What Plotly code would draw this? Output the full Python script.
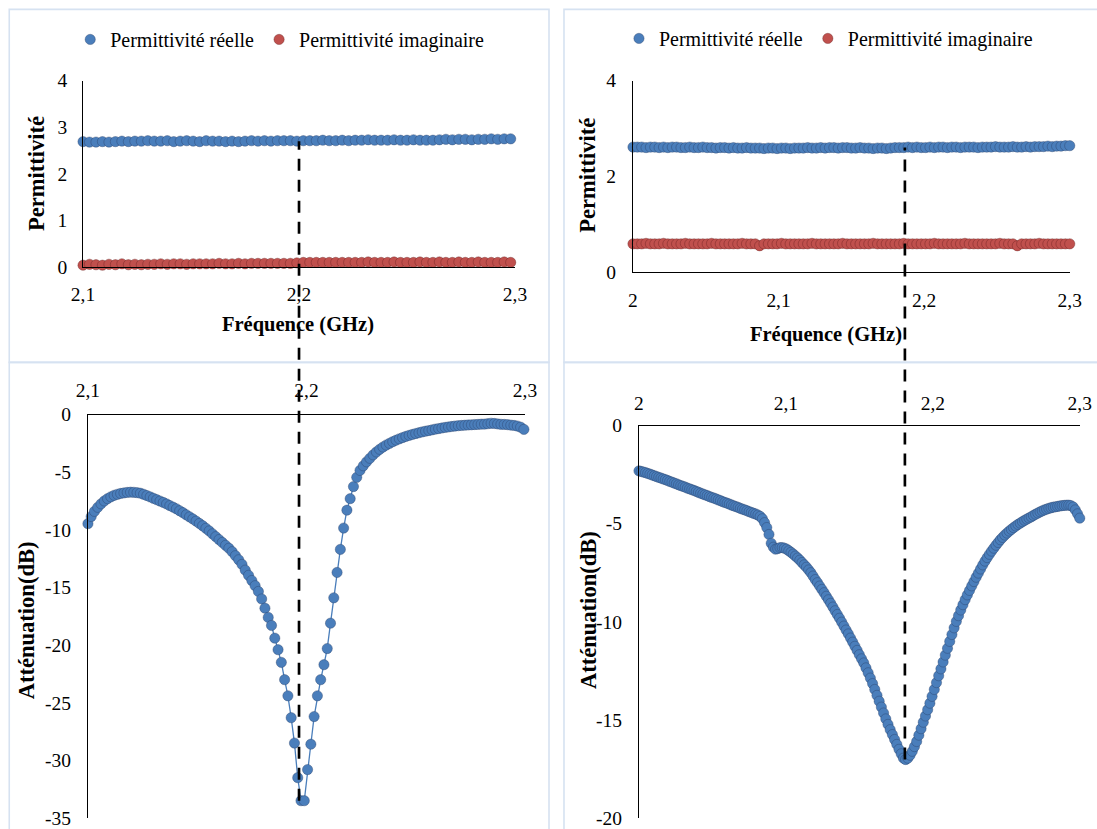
import numpy as np
import plotly.graph_objects as go

W, H = 1097, 829

# ---------------- data ----------------
# VNA frequency sweeps (GHz)
freq_att_left = np.round(np.linspace(2.1, 2.2995, 134), 4)
freq_att_right = np.round(np.linspace(2.0, 2.3, 201), 4)
freq_perm_left = np.round(np.linspace(2.1, 2.298, 67), 4)
freq_perm_right = np.round(np.linspace(2.0, 2.3, 101), 4)

att_left = [
    -9.47, -8.85, -8.40, -8.05, -7.75, -7.50, -7.30, -7.14, -7.01, -6.92,
    -6.85, -6.80, -6.76, -6.74, -6.75, -6.78, -6.83, -6.92, -7.03, -7.15,
    -7.27, -7.39, -7.51, -7.63, -7.76, -7.90, -8.04, -8.18, -8.35, -8.52,
    -8.70, -8.88, -9.06, -9.25, -9.45, -9.65, -9.87, -10.10, -10.35, -10.60,
    -10.85, -11.10, -11.35, -11.60, -11.90, -12.25, -12.60, -13.00, -13.50, -13.95,
    -14.40, -14.85, -15.35, -16.00, -16.80, -17.60, -18.30, -19.40, -20.40, -21.50,
    -23.00, -24.40, -26.30, -28.50, -31.50, -33.50, -33.50, -30.80, -28.60, -26.20,
    -24.40, -23.00, -21.70, -20.30, -18.10, -15.90, -13.70, -11.70, -9.85, -8.30,
    -7.30, -6.25, -5.45, -4.85, -4.45, -4.10, -3.80, -3.50, -3.25, -3.02,
    -2.82, -2.65, -2.50, -2.36, -2.23, -2.11, -2.00, -1.90, -1.81, -1.73,
    -1.65, -1.58, -1.51, -1.45, -1.39, -1.33, -1.27, -1.22, -1.17, -1.12,
    -1.08, -1.04, -1.00, -0.97, -0.95, -0.93, -0.91, -0.89, -0.87, -0.86,
    -0.84, -0.83, -0.80, -0.76, -0.78, -0.82, -0.85, -0.86, -0.88, -0.92,
    -0.95, -1.00, -1.10, -1.29,
]

att_right = [
    -2.31, -2.34, -2.37, -2.40, -2.44, -2.48, -2.52, -2.56, -2.60, -2.64,
    -2.68, -2.72, -2.76, -2.80, -2.85, -2.89, -2.93, -2.97, -3.02, -3.06,
    -3.10, -3.14, -3.19, -3.23, -3.27, -3.31, -3.36, -3.40, -3.45, -3.49,
    -3.53, -3.57, -3.62, -3.66, -3.70, -3.74, -3.79, -3.83, -3.88, -3.92,
    -3.96, -4.00, -4.05, -4.09, -4.13, -4.17, -4.22, -4.26, -4.30, -4.34,
    -4.39, -4.43, -4.47, -4.51, -4.56, -4.63, -4.75, -4.95, -5.20, -5.55,
    -6.00, -6.20, -6.30, -6.27, -6.22, -6.22, -6.25, -6.30, -6.38, -6.46,
    -6.55, -6.65, -6.75, -6.86, -6.98, -7.10, -7.22, -7.36, -7.50, -7.67,
    -7.85, -8.01, -8.18, -8.35, -8.52, -8.70, -8.88, -9.06, -9.25, -9.44,
    -9.63, -9.82, -10.02, -10.22, -10.42, -10.62, -10.83, -11.04, -11.25, -11.46,
    -11.68, -11.89, -12.10, -12.35, -12.60, -12.87, -13.15, -13.45, -13.75, -14.05,
    -14.35, -14.65, -14.95, -15.23, -15.50, -15.75, -16.00, -16.25, -16.50, -16.73,
    -16.95, -17.02, -16.95, -16.80, -16.60, -16.36, -16.10, -15.78, -15.45, -15.12,
    -14.80, -14.48, -14.15, -13.80, -13.45, -13.10, -12.75, -12.40, -12.05, -11.70,
    -11.35, -11.00, -10.65, -10.31, -9.98, -9.69, -9.40, -9.13, -8.87, -8.63,
    -8.40, -8.17, -7.95, -7.73, -7.52, -7.31, -7.10, -6.91, -6.73, -6.56,
    -6.40, -6.25, -6.10, -5.96, -5.82, -5.70, -5.58, -5.48, -5.38, -5.29,
    -5.20, -5.12, -5.04, -4.97, -4.90, -4.83, -4.77, -4.71, -4.65, -4.58,
    -4.52, -4.46, -4.40, -4.35, -4.30, -4.26, -4.22, -4.19, -4.16, -4.14,
    -4.12, -4.10, -4.08, -4.07, -4.06, -4.06, -4.08, -4.15, -4.30, -4.50,
    -4.72,
]

perm_real_left = [
    2.69, 2.68, 2.68, 2.69, 2.68, 2.69, 2.70, 2.69, 2.70, 2.70,
    2.71, 2.70, 2.70, 2.71, 2.69, 2.70, 2.71, 2.70, 2.69, 2.71,
    2.70, 2.70, 2.69, 2.70, 2.69, 2.70, 2.71, 2.70, 2.71, 2.70,
    2.71, 2.71, 2.71, 2.70, 2.71, 2.71, 2.71, 2.72, 2.71, 2.71,
    2.72, 2.71, 2.72, 2.72, 2.73, 2.72, 2.72, 2.72, 2.73, 2.72,
    2.72, 2.73, 2.72, 2.72, 2.72, 2.73, 2.74, 2.73, 2.74, 2.74,
    2.73, 2.74, 2.74, 2.75, 2.74, 2.75, 2.75,
]

perm_imag_left = [
    0.04, 0.06, 0.05, 0.04, 0.06, 0.05, 0.07, 0.05, 0.06, 0.05,
    0.06, 0.06, 0.07, 0.06, 0.07, 0.07, 0.06, 0.07, 0.07, 0.07,
    0.07, 0.08, 0.07, 0.07, 0.08, 0.07, 0.08, 0.08, 0.08, 0.08,
    0.08, 0.08, 0.08, 0.09, 0.10, 0.10, 0.10, 0.10, 0.10, 0.10,
    0.10, 0.10, 0.10, 0.10, 0.11, 0.10, 0.10, 0.10, 0.11, 0.10,
    0.10, 0.10, 0.11, 0.10, 0.10, 0.11, 0.10, 0.10, 0.11, 0.10,
    0.10, 0.11, 0.10, 0.10, 0.10, 0.11, 0.10,
]

perm_real_right = [
    2.61, 2.61, 2.61, 2.60, 2.61, 2.61, 2.60, 2.61, 2.60, 2.61,
    2.61, 2.60, 2.60, 2.61, 2.60, 2.60, 2.61, 2.60, 2.60, 2.59,
    2.60, 2.60, 2.59, 2.60, 2.59, 2.59, 2.60, 2.59, 2.59, 2.59,
    2.58, 2.59, 2.59, 2.58, 2.59, 2.59, 2.58, 2.59, 2.59, 2.59,
    2.60, 2.59, 2.59, 2.60, 2.59, 2.60, 2.60, 2.59, 2.60, 2.60,
    2.59, 2.59, 2.60, 2.59, 2.59, 2.58, 2.59, 2.59, 2.58, 2.59,
    2.60, 2.60, 2.60, 2.61, 2.60, 2.61, 2.60, 2.60, 2.61, 2.60,
    2.61, 2.61, 2.60, 2.61, 2.61, 2.60, 2.61, 2.61, 2.61, 2.60,
    2.61, 2.61, 2.61, 2.62, 2.61, 2.61, 2.61, 2.62, 2.61, 2.61,
    2.62, 2.61, 2.62, 2.62, 2.62, 2.63, 2.62, 2.63, 2.63, 2.64,
    2.64,
]

perm_imag_right = [
    0.59, 0.59, 0.59, 0.60, 0.59, 0.59, 0.59, 0.60, 0.59, 0.59,
    0.59, 0.59, 0.60, 0.59, 0.59, 0.59, 0.59, 0.59, 0.60, 0.59,
    0.59, 0.59, 0.59, 0.59, 0.59, 0.60, 0.59, 0.59, 0.59, 0.55,
    0.59, 0.59, 0.59, 0.59, 0.60, 0.59, 0.59, 0.59, 0.59, 0.59,
    0.59, 0.60, 0.59, 0.59, 0.59, 0.59, 0.59, 0.59, 0.60, 0.59,
    0.59, 0.59, 0.59, 0.59, 0.59, 0.60, 0.59, 0.59, 0.59, 0.59,
    0.59, 0.59, 0.60, 0.59, 0.59, 0.59, 0.59, 0.59, 0.59, 0.60,
    0.59, 0.59, 0.59, 0.59, 0.59, 0.59, 0.60, 0.59, 0.59, 0.59,
    0.59, 0.59, 0.59, 0.59, 0.60, 0.59, 0.59, 0.59, 0.55, 0.59,
    0.59, 0.59, 0.59, 0.60, 0.59, 0.59, 0.59, 0.59, 0.59, 0.59,
    0.59,
]

x_ticks_left = [2.1, 2.2, 2.3]
x_ticktext_left = ["2,1", "2,2", "2,3"]
x_ticks_right = [2.0, 2.1, 2.2, 2.3]
x_ticktext_right = ["2", "2,1", "2,2", "2,3"]
y_ticks_perm_left = [0, 1, 2, 3, 4]
y_ticks_perm_right = [0, 2, 4]
y_ticks_att_left = [0, -5, -10, -15, -20, -25, -30, -35]
y_ticks_att_right = [0, -5, -10, -15, -20]

marked_freq_left = 2.2      # GHz, dashed marker (left)
marked_freq_right = 2.181   # GHz, dashed marker (right)

name_real = "Permittivité réelle"
name_imag = "Permittivité imaginaire"
title_freq = "Fréquence (GHz)"
title_perm = "Permittivité"
title_att = "Atténuation(dB)"

# ---------------- style ----------------
BLUE = "#4a7ebb"
RED = "#c0504d"
FONT = "Liberation Serif"

# The captured picture shows the page with a small border around it
# (measured: ~12 px each side, then resized back to W x H).  Layout positions
# below are given in picture pixels and converted to page/paper fractions.
PAD = 12
SX = (W + 2 * PAD) / W
SY = (H + 2 * PAD) / H
K = (SX + SY) / 2  # size compensation


def px_x(t):
    return (t * SX - PAD) / W


def px_y(t):
    return 1 - (t * SY - PAD) / H


def clamp(v):
    return min(1.0, max(0.0, v))


dom = {
    "x": [px_x(82.8), px_x(515)], "y": [px_y(268), px_y(82)],
    "x2": [px_x(633), px_x(1070)], "y2": [px_y(273), px_y(82)],
    "x3": [px_x(87.7), px_x(525)], "y3": [clamp(px_y(822)), px_y(415)],
    "x4": [px_x(639), px_x(1080)], "y4": [clamp(px_y(822)), px_y(426)],
}
rng = {"y": [0, 4], "y2": [0, 4], "y3": [-35, 0], "y4": [-20, 0]}


def y_to_paper(axis, v):
    d0, d1 = dom[axis]
    r0, r1 = rng[axis]
    return d0 + (v - r0) / (r1 - r0) * (d1 - d0)


fig = go.Figure()

MS = 10 * K
mk = dict(size=MS, line=dict(width=0.7, color="rgba(40,60,100,0.55)"))
mk_r = dict(size=MS, line=dict(width=0.7, color="rgba(100,30,30,0.55)"))

# top-left
fig.add_trace(go.Scatter(x=freq_perm_left, y=perm_real_left, mode="markers", name=name_real,
                         marker=dict(color=BLUE, **mk), xaxis="x", yaxis="y",
                         legend="legend", cliponaxis=False))
fig.add_trace(go.Scatter(x=freq_perm_left, y=perm_imag_left, mode="markers", name=name_imag,
                         marker=dict(color=RED, **mk_r), xaxis="x", yaxis="y",
                         legend="legend", cliponaxis=False))
# top-right
fig.add_trace(go.Scatter(x=freq_perm_right, y=perm_real_right, mode="markers", name=name_real,
                         marker=dict(color=BLUE, **mk), xaxis="x2", yaxis="y2",
                         legend="legend2", cliponaxis=False))
fig.add_trace(go.Scatter(x=freq_perm_right, y=perm_imag_right, mode="markers", name=name_imag,
                         marker=dict(color=RED, **mk_r), xaxis="x2", yaxis="y2",
                         legend="legend2", cliponaxis=False))
# bottom-left
fig.add_trace(go.Scatter(x=freq_att_left, y=att_left, mode="lines+markers", showlegend=False,
                         line=dict(color=BLUE, width=1.3), marker=dict(color=BLUE, **mk),
                         xaxis="x3", yaxis="y3", cliponaxis=False))
# bottom-right
fig.add_trace(go.Scatter(x=freq_att_right, y=att_right, mode="lines+markers", showlegend=False,
                         line=dict(color=BLUE, width=1.3), marker=dict(color=BLUE, **mk),
                         xaxis="x4", yaxis="y4", cliponaxis=False))

tickfont = dict(family=FONT, size=19 * K, color="black")
base = dict(showline=True, linecolor="black", linewidth=1, showgrid=False, zeroline=False,
            ticks="", tickfont=tickfont, fixedrange=True)

legfont = dict(family=FONT, size=19.5 * K, color="black")
layout = dict(
    width=W, height=H, margin=dict(l=0, r=0, t=0, b=0),
    paper_bgcolor="white", plot_bgcolor="white",
    font=dict(family=FONT, color="black"),
    xaxis=dict(domain=dom["x"], range=[2.1, 2.3], anchor="y", tickvals=x_ticks_left,
               ticktext=x_ticktext_left, ticklabelstandoff=10, **base),
    yaxis=dict(domain=dom["y"], range=rng["y"], anchor="x", tickvals=y_ticks_perm_left,
               ticktext=[str(v) for v in y_ticks_perm_left], ticklabelstandoff=11, **base),
    xaxis2=dict(domain=dom["x2"], range=[2.0, 2.3], anchor="y2", tickvals=x_ticks_right,
                ticktext=x_ticktext_right, ticklabelstandoff=11, **base),
    yaxis2=dict(domain=dom["y2"], range=rng["y2"], anchor="x2", tickvals=y_ticks_perm_right,
                ticktext=[str(v) for v in y_ticks_perm_right], ticklabelstandoff=12, **base),
    xaxis3=dict(domain=dom["x3"], range=[2.1, 2.3], anchor="y3", side="top", tickvals=x_ticks_left,
                ticktext=x_ticktext_left, ticklabelstandoff=9, **base),
    yaxis3=dict(domain=dom["y3"], range=rng["y3"], anchor="x3", tickvals=y_ticks_att_left,
                ticktext=[str(v) for v in y_ticks_att_left], ticklabelstandoff=12, **base),
    xaxis4=dict(domain=dom["x4"], range=[2.0, 2.3], anchor="y4", side="top", tickvals=x_ticks_right,
                ticktext=x_ticktext_right, ticklabelstandoff=7, **base),
    yaxis4=dict(domain=dom["y4"], range=rng["y4"], anchor="x4", tickvals=y_ticks_att_right,
                ticktext=[str(v) for v in y_ticks_att_right], ticklabelstandoff=12, **base),
    legend=dict(orientation="h", x=px_x(70), y=px_y(41), xanchor="left", yanchor="middle",
                font=legfont, bgcolor="rgba(0,0,0,0)",
                itemwidth=30, itemclick=False, itemdoubleclick=False),
    legend2=dict(orientation="h", x=px_x(619), y=px_y(40), xanchor="left", yanchor="middle",
                 font=legfont, bgcolor="rgba(0,0,0,0)",
                 itemwidth=30, itemclick=False, itemdoubleclick=False),
)
fig.update_layout(**layout)

# panel frames
frame = dict(type="rect", xref="paper", yref="paper", line=dict(color="#d6e2f1", width=1.6),
             fillcolor="rgba(0,0,0,0)", layer="below")
fig.add_shape(x0=px_x(9), x1=px_x(549), y0=px_y(363), y1=px_y(11), **frame)
fig.add_shape(x0=px_x(564), x1=px_x(1105), y0=px_y(363), y1=px_y(11), **frame)
fig.add_shape(x0=px_x(9), x1=px_x(549), y0=px_y(840), y1=px_y(363), **frame)
fig.add_shape(x0=px_x(564), x1=px_x(1105), y0=px_y(840), y1=px_y(363), **frame)

# dashed resonance markers spanning both panels
dash = dict(color="black", width=2.6 * K, dash="12px,9px")
i_l = int(np.argmin(np.abs(freq_perm_left - marked_freq_left)))
fig.add_shape(type="line", xref="x", yref="paper", x0=marked_freq_left, x1=marked_freq_left,
              y0=y_to_paper("y3", min(att_left)), y1=y_to_paper("y", perm_real_left[i_l]),
              line=dash, layer="above")
i_r = int(np.argmin(np.abs(freq_perm_right - marked_freq_right)))
fig.add_shape(type="line", xref="x4", yref="paper", x0=marked_freq_right, x1=marked_freq_right,
              y0=y_to_paper("y4", min(att_right)), y1=y_to_paper("y2", perm_real_right[i_r]),
              line=dash, layer="above")

# axis titles
tfont_x = dict(family=FONT, size=20 * K, color="black")
tfont_y = dict(family=FONT, size=22 * K, color="black")


def title(text, x, y, angle=0, font=tfont_x):
    fig.add_annotation(text="<b>" + text + "</b>", x=px_x(x), y=px_y(y), xref="paper", yref="paper",
                       showarrow=False, textangle=angle, font=font, xanchor="center", yanchor="middle")


title(title_freq, 298, 325)
title(title_freq, 826, 335)
title(title_perm, 37, 175, -90, tfont_y)
title(title_perm, 588, 176, -90, tfont_y)
title(title_att, 26, 620, -90, tfont_y)
title(title_att, 588, 610, -90, tfont_y)

fig.write_html(
    "out.html",
    config={"displayModeBar": False},
    post_script="document.body.style.margin='0px';document.body.style.padding='0px';"
                "document.documentElement.style.overflow='hidden';",
)
